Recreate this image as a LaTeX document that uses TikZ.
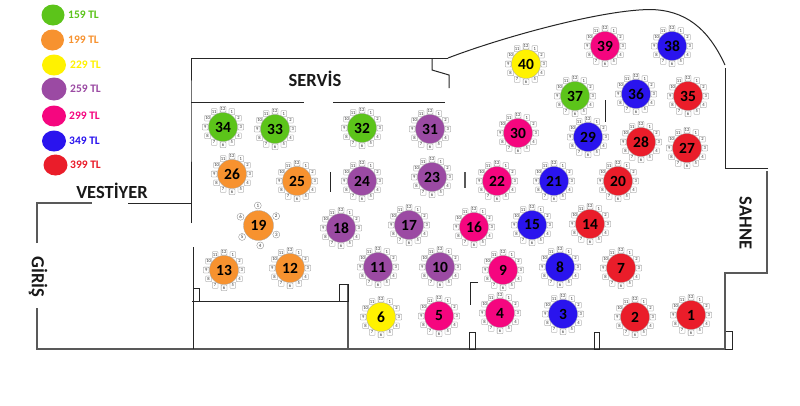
\documentclass[tikz,border=0pt]{standalone}
\usepackage{fontspec}
\usetikzlibrary{shapes.geometric}
\setmainfont{Carlito}
\definecolor{cgreen}{HTML}{5CC41A}
\definecolor{corange}{HTML}{F7922F}
\definecolor{cyellow}{HTML}{FFF200}
\definecolor{cpurple}{HTML}{9B4AA3}
\definecolor{cpink}{HTML}{F5067F}
\definecolor{cblue}{HTML}{2A14EE}
\definecolor{cred}{HTML}{EA1D2A}
\tikzset{
 x=1pt,y=-1pt,
 wall/.style={draw=black!85,line width=1pt},
 gwall/.style={draw=black!65,line width=1.2pt},
 tabletop/.style={circle,draw=black!35,line width=.3pt,minimum size=29pt,inner sep=0pt,font=\bfseries\fontsize{15.5}{16}\selectfont,text=black},
 seat/.style={draw=black!50,line width=.3pt,fill=white,rounded corners=.6pt,minimum size=5.8pt,inner sep=0pt,font=\fontsize{4.6}{5}\selectfont,text=black!80},
 roundseat/.style={circle,draw=black!50,line width=.3pt,minimum size=7pt,inner sep=0pt,font=\fontsize{5}{5}\selectfont,text=black!80},
 dot/.style={inner sep=0pt,draw=none},
 price/.style={anchor=west,font=\bfseries\fontsize{11.5}{12}\selectfont,inner sep=0pt},
 label/.style={font=\bfseries\fontsize{18.5}{19}\selectfont,text=black!90,inner sep=0pt}
}
\newcommand{\tbl}[4]{%
 \foreach \s in {1,...,12}{
  \node[seat] (t#1s\s) at ({#2+17.8*sin(30*\s)},{#3-17.8*cos(30*\s)}) {\s};
 }
 \node[tabletop,fill=#4] (t#1) at (#2,#3) {#1};
}
\begin{document}
\begin{tikzpicture}
\useasboundingbox (0,0) rectangle (800,405);
\fill[white] (0,0) rectangle (800,405);
% legend
\foreach \n/\x/\y/\w/\h/\c/\t/\tx in {
 a/53/15/23/21/cgreen/159/68,
 b/52.5/40/23/21/corange/199/68,
 c/54/65/24/21/cyellow/229/70,
 d/54/89/25/23/cpurple/259/70,
 e/54/116/24/21/cpink/299/69,
 f/54/141/24/21/cblue/349/69,
 g/55.5/165/24/21/cred/399/70}{
  \node[dot,ellipse,minimum width=\w pt,minimum height=\h pt,fill=\c] (leg\n) at (\x,\y) {};
  \node[price,text=\c] (txt\n) at (\tx,\y) {\t{} TL};
}
% walls
\coordinate (a1) at (37,243); \coordinate (a2) at (37,203); \coordinate (a3) at (92,203);
\coordinate (a4) at (128,203); \coordinate (a5) at (191,203);
\draw[gwall] (a1) -- (a2) -- (a3);
\draw[wall] (a4) -- (a5);
\draw[gwall] (37,308) -- (37,349) -- (725,349);
\draw[wall] (191,223) -- (191,102) -- (191,58) -- (448,58);
\draw[wall] (448,58) .. controls (500,38) and (600,10) .. (650,9.5) .. controls (685,10) and (708,28) .. (725,65);
\draw[wall] (193,247) -- (193,349);
\draw[wall] (192,301) -- (348,301);
\draw[gwall] (348,284) -- (348,349);
\draw[wall] (193,288) rectangle (199,301);
\draw[wall] (339,284) rectangle (348,301);
\draw[wall] (469,332) rectangle (475,349);
\draw[wall] (594,332) rectangle (599,349);
\draw[wall] (725,331) rectangle (732,349);
\draw[gwall] (725,349) -- (725,273) -- (767,273) -- (767,171);
\draw[wall] (768,168) -- (725,168) -- (725,68);
\draw[wall] (191,102) -- (304,102);
\draw[wall] (333,102) -- (445,102);
\draw[wall] (432,58) -- (432,70) -- (449,75) -- (449,88);
\draw[wall] (330,172) -- (330,192);
\draw[gwall] (465,172) -- (465,188);
\draw[wall] (478,282) -- (470,282) -- (470,305);
\draw[wall] (605,100) -- (605,122);
% labels
\node[label] (servis) at (315,79) {SERVİS};
\node[label] (vest) at (112,191) {VESTİYER};
\node[label,rotate=-90] (giris) at (38,277) {GİRİŞ};
\node[label,rotate=-90] (sahne) at (745.5,223) {SAHNE};
% tables
\tbl{1}{691}{315}{cred}\tbl{2}{635}{317}{cred}\tbl{3}{563}{314}{cblue}\tbl{4}{500}{313}{cpink}
\tbl{5}{439}{316}{cpink}\tbl{6}{381}{317}{cyellow}\tbl{7}{621}{268}{cred}\tbl{8}{560}{267}{cblue}
\tbl{9}{503}{270}{cpink}\tbl{10}{440}{267}{cpurple}\tbl{11}{378}{267}{cpurple}\tbl{12}{290}{268}{corange}
\tbl{13}{224}{270}{corange}\tbl{14}{590}{224}{cred}\tbl{15}{532}{225}{cblue}\tbl{16}{474}{227}{cpink}
\tbl{17}{409}{225}{cpurple}\tbl{18}{341}{228}{cpurple}
\tbl{20}{618}{181}{cred}\tbl{21}{554}{181}{cblue}\tbl{22}{497}{181}{cpink}\tbl{23}{432}{177}{cpurple}
\tbl{24}{362}{181}{cpurple}\tbl{25}{297}{181}{corange}\tbl{26}{232}{174}{corange}\tbl{27}{687}{148}{cred}
\tbl{28}{641}{142}{cred}\tbl{29}{588}{137}{cblue}\tbl{30}{518}{133}{cpink}\tbl{31}{430}{129}{cpurple}
\tbl{32}{362}{128}{cgreen}\tbl{33}{275}{129}{cgreen}\tbl{34}{223}{127}{cgreen}\tbl{35}{688}{96}{cred}
\tbl{36}{636}{94}{cblue}\tbl{37}{575}{96}{cgreen}\tbl{38}{672}{46}{cblue}\tbl{39}{605}{46}{cpink}
\tbl{40}{526}{64}{cyellow}
% table 19 with six seats
\foreach \s/\a in {1/-2,2/62,3/117,4/175,5/235,6/296}{
 \node[roundseat] (t19s\s) at ({258.5+20*sin(\a)},{225.5-20*cos(\a)}) {\s};
}
\node[tabletop,minimum size=30pt,fill=corange] (t19) at (258.5,225.5) {19};
\end{tikzpicture}
\end{document}
